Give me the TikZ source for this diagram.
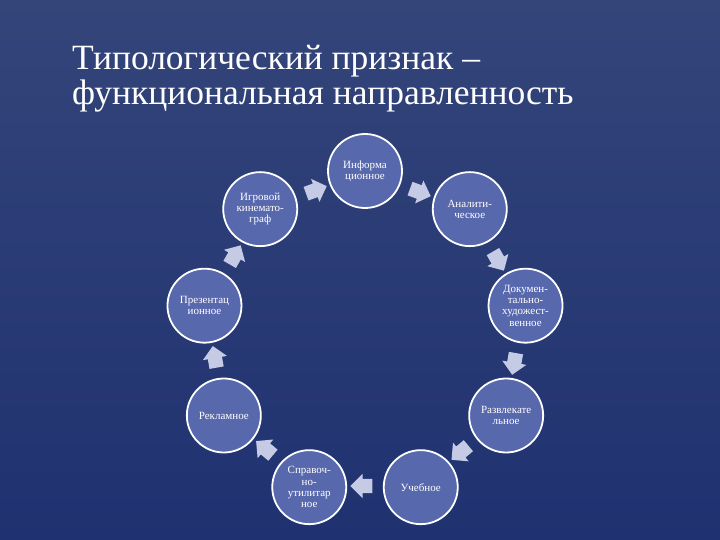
\documentclass[tikz,border=0pt]{standalone}
\usepackage{fontspec}
\setmainfont{Liberation Serif}
\usetikzlibrary{shapes.arrows}
\definecolor{bgtop}{HTML}{34457A}
\definecolor{bgbot}{HTML}{1F3170}
\definecolor{circfill}{HTML}{5868AC}
\definecolor{arrowfill}{HTML}{C5CBE4}

\begin{document}
\begin{tikzpicture}[x=1pt, y=1pt,
  ring/.style={circle, draw=white, line width=1.8pt, fill=circfill, minimum size=74pt,
    inner sep=0pt, align=center, text=white, font=\fontsize{11}{11.2}\selectfont},
  blockarrow/.style={single arrow, fill=arrowfill, draw=none, minimum height=22pt,
    inner xsep=0pt, inner ysep=7pt, single arrow head extend=5pt}]
  \shade[top color=bgtop, bottom color=bgbot] (0,0) rectangle (720,540);
  \node[anchor=base west, align=left, text=white, inner sep=0pt,
    font=\fontsize{35.5}{35.5}\selectfont] (title) at (72,435)
    {Типологический признак –\\функциональная направленность};
  \coordinate (c) at (365,206);
  \node[ring] (info)   at ([shift={(90:163)}]c)   {Информа\\ционное};
  \node[ring] (anal)   at ([shift={(50:163)}]c)   {Аналити-\\ческое};
  \node[ring] (dok)    at ([shift={(10:163)}]c)   {Докумен-\\тально-\\художест-\\венное};
  \node[ring] (razv)   at ([shift={(-30:163)}]c)  {Развлекате\\льное};
  \node[ring] (ucheb)  at ([shift={(-70:163)}]c)  {Учебное};
  \node[ring] (sprav)  at ([shift={(-110:163)}]c) {Справоч-\\но-\\утилитар\\ное};
  \node[ring] (reklam) at ([shift={(-150:163)}]c) {Рекламное};
  \node[ring] (prez)   at ([shift={(170:163)}]c)  {Презентац\\ионное};
  \node[ring] (igr)    at ([shift={(130:163)}]c)  {Игровой\\кинемато-\\граф};
  \foreach \a in {70,30,...,-250}
    \node[blockarrow, rotate=\a-90] (arr\a) at ([shift={(\a:152)}]c) {};
\end{tikzpicture}
\end{document}
